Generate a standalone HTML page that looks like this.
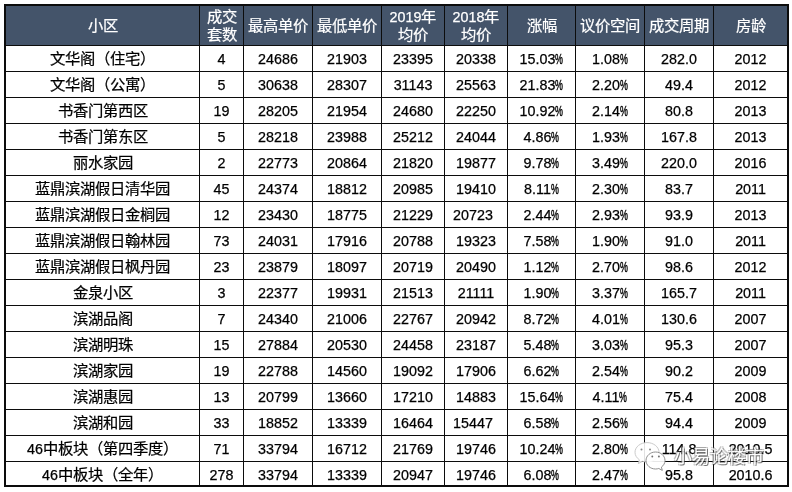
<!DOCTYPE html>
<html lang="zh-CN">
<head>
<meta charset="utf-8">
<title>小区成交数据</title>
<style>
html,body{margin:0;padding:0;background:#fff;}
body{width:792px;height:492px;position:relative;overflow:hidden;font-family:"Liberation Sans",sans-serif;font-size:14.3px;color:#000;}
#sheet{position:absolute;left:0;top:0;width:792px;height:492px;will-change:transform;}
#grid{position:absolute;left:4px;top:4px;width:785px;height:483px;background:#0c0c0c;}
.c{position:absolute;background:#fff;display:flex;align-items:center;justify-content:center;text-align:center;white-space:nowrap;line-height:18px;box-sizing:border-box;padding-top:1px;-webkit-text-stroke:.25px currentColor;}
.h{background:#44546a;color:#fff;padding-top:1px;}
.z{font-size:15.3px;-webkit-text-stroke:.22px currentColor;}
.n{font-size:14.3px;-webkit-text-stroke:.25px currentColor;}
.p{display:inline-block;transform:scaleX(.62);transform-origin:0 50%;width:8px;text-align:left;-webkit-text-stroke:.45px currentColor;}
#wm{position:absolute;left:632px;top:440px;width:142px;height:36px;}
#wm .t{position:absolute;left:42px;top:5px;font-size:18px;line-height:24px;color:#fff;white-space:nowrap;text-shadow:1px 1px 0 rgba(60,60,60,.7),-1px -1px 0 rgba(130,130,130,.5),1px -1px 0 rgba(120,120,120,.45),-1px 1px 0 rgba(120,120,120,.45);opacity:.92;}
#wm svg{position:absolute;left:0;top:0;}
</style>
</head>
<body>
<div id="sheet">
<div id="grid"></div>

<div class="c h z" style="left:6px;top:6px;width:193px;height:39px"><div>小区</div></div>
<div class="c h z" style="left:200px;top:6px;width:43px;height:39px"><div>成交<br>套数</div></div>
<div class="c h z" style="left:244px;top:6px;width:68px;height:39px"><div>最高单价</div></div>
<div class="c h z" style="left:313px;top:6px;width:68px;height:39px"><div>最低单价</div></div>
<div class="c h z" style="left:382px;top:6px;width:62px;height:39px"><div><span class="n">2019</span>年<br>均价</div></div>
<div class="c h z" style="left:445px;top:6px;width:62px;height:39px"><div><span class="n">2018</span>年<br>均价</div></div>
<div class="c h z" style="left:508px;top:6px;width:67px;height:39px"><div>涨幅</div></div>
<div class="c h z" style="left:576px;top:6px;width:68px;height:39px"><div>议价空间</div></div>
<div class="c h z" style="left:645px;top:6px;width:68px;height:39px"><div>成交周期</div></div>
<div class="c h z" style="left:714px;top:6px;width:73px;height:39px"><div>房龄</div></div>
<div class="c z" style="left:6px;top:46px;width:193px;height:25px"><div>文华阁（住宅）</div></div>
<div class="c" style="left:200px;top:46px;width:43px;height:25px"><div>4</div></div>
<div class="c" style="left:244px;top:46px;width:68px;height:25px"><div>24686</div></div>
<div class="c" style="left:313px;top:46px;width:68px;height:25px"><div>21903</div></div>
<div class="c" style="left:382px;top:46px;width:62px;height:25px"><div>23395</div></div>
<div class="c" style="left:445px;top:46px;width:62px;height:25px"><div>20338</div></div>
<div class="c" style="left:508px;top:46px;width:67px;height:25px"><div>15.03<span class="p">%</span></div></div>
<div class="c" style="left:576px;top:46px;width:68px;height:25px"><div>1.08<span class="p">%</span></div></div>
<div class="c" style="left:645px;top:46px;width:68px;height:25px"><div>282.0</div></div>
<div class="c" style="left:714px;top:46px;width:73px;height:25px"><div>2012</div></div>
<div class="c z" style="left:6px;top:72px;width:193px;height:25px"><div>文华阁（公寓）</div></div>
<div class="c" style="left:200px;top:72px;width:43px;height:25px"><div>5</div></div>
<div class="c" style="left:244px;top:72px;width:68px;height:25px"><div>30638</div></div>
<div class="c" style="left:313px;top:72px;width:68px;height:25px"><div>28307</div></div>
<div class="c" style="left:382px;top:72px;width:62px;height:25px"><div>31143</div></div>
<div class="c" style="left:445px;top:72px;width:62px;height:25px"><div>25563</div></div>
<div class="c" style="left:508px;top:72px;width:67px;height:25px"><div>21.83<span class="p">%</span></div></div>
<div class="c" style="left:576px;top:72px;width:68px;height:25px"><div>2.20<span class="p">%</span></div></div>
<div class="c" style="left:645px;top:72px;width:68px;height:25px"><div>49.4</div></div>
<div class="c" style="left:714px;top:72px;width:73px;height:25px"><div>2012</div></div>
<div class="c z" style="left:6px;top:98px;width:193px;height:25px"><div>书香门第西区</div></div>
<div class="c" style="left:200px;top:98px;width:43px;height:25px"><div>19</div></div>
<div class="c" style="left:244px;top:98px;width:68px;height:25px"><div>28205</div></div>
<div class="c" style="left:313px;top:98px;width:68px;height:25px"><div>21954</div></div>
<div class="c" style="left:382px;top:98px;width:62px;height:25px"><div>24680</div></div>
<div class="c" style="left:445px;top:98px;width:62px;height:25px"><div>22250</div></div>
<div class="c" style="left:508px;top:98px;width:67px;height:25px"><div>10.92<span class="p">%</span></div></div>
<div class="c" style="left:576px;top:98px;width:68px;height:25px"><div>2.14<span class="p">%</span></div></div>
<div class="c" style="left:645px;top:98px;width:68px;height:25px"><div>80.8</div></div>
<div class="c" style="left:714px;top:98px;width:73px;height:25px"><div>2013</div></div>
<div class="c z" style="left:6px;top:124px;width:193px;height:25px"><div>书香门第东区</div></div>
<div class="c" style="left:200px;top:124px;width:43px;height:25px"><div>5</div></div>
<div class="c" style="left:244px;top:124px;width:68px;height:25px"><div>28218</div></div>
<div class="c" style="left:313px;top:124px;width:68px;height:25px"><div>23988</div></div>
<div class="c" style="left:382px;top:124px;width:62px;height:25px"><div>25212</div></div>
<div class="c" style="left:445px;top:124px;width:62px;height:25px"><div>24044</div></div>
<div class="c" style="left:508px;top:124px;width:67px;height:25px"><div>4.86<span class="p">%</span></div></div>
<div class="c" style="left:576px;top:124px;width:68px;height:25px"><div>1.93<span class="p">%</span></div></div>
<div class="c" style="left:645px;top:124px;width:68px;height:25px"><div>167.8</div></div>
<div class="c" style="left:714px;top:124px;width:73px;height:25px"><div>2013</div></div>
<div class="c z" style="left:6px;top:150px;width:193px;height:25px"><div>丽水家园</div></div>
<div class="c" style="left:200px;top:150px;width:43px;height:25px"><div>2</div></div>
<div class="c" style="left:244px;top:150px;width:68px;height:25px"><div>22773</div></div>
<div class="c" style="left:313px;top:150px;width:68px;height:25px"><div>20864</div></div>
<div class="c" style="left:382px;top:150px;width:62px;height:25px"><div>21820</div></div>
<div class="c" style="left:445px;top:150px;width:62px;height:25px"><div>19877</div></div>
<div class="c" style="left:508px;top:150px;width:67px;height:25px"><div>9.78<span class="p">%</span></div></div>
<div class="c" style="left:576px;top:150px;width:68px;height:25px"><div>3.49<span class="p">%</span></div></div>
<div class="c" style="left:645px;top:150px;width:68px;height:25px"><div>220.0</div></div>
<div class="c" style="left:714px;top:150px;width:73px;height:25px"><div>2016</div></div>
<div class="c z" style="left:6px;top:176px;width:193px;height:25px"><div>蓝鼎滨湖假日清华园</div></div>
<div class="c" style="left:200px;top:176px;width:43px;height:25px"><div>45</div></div>
<div class="c" style="left:244px;top:176px;width:68px;height:25px"><div>24374</div></div>
<div class="c" style="left:313px;top:176px;width:68px;height:25px"><div>18812</div></div>
<div class="c" style="left:382px;top:176px;width:62px;height:25px"><div>20985</div></div>
<div class="c" style="left:445px;top:176px;width:62px;height:25px"><div>19410</div></div>
<div class="c" style="left:508px;top:176px;width:67px;height:25px"><div>8.11<span class="p">%</span></div></div>
<div class="c" style="left:576px;top:176px;width:68px;height:25px"><div>2.30<span class="p">%</span></div></div>
<div class="c" style="left:645px;top:176px;width:68px;height:25px"><div>83.7</div></div>
<div class="c" style="left:714px;top:176px;width:73px;height:25px"><div>2011</div></div>
<div class="c z" style="left:6px;top:202px;width:193px;height:25px"><div>蓝鼎滨湖假日金榈园</div></div>
<div class="c" style="left:200px;top:202px;width:43px;height:25px"><div>12</div></div>
<div class="c" style="left:244px;top:202px;width:68px;height:25px"><div>23430</div></div>
<div class="c" style="left:313px;top:202px;width:68px;height:25px"><div>18775</div></div>
<div class="c" style="left:382px;top:202px;width:62px;height:25px"><div>21229</div></div>
<div class="c" style="left:445px;top:202px;width:62px;height:25px;padding-right:6px"><div>20723</div></div>
<div class="c" style="left:508px;top:202px;width:67px;height:25px"><div>2.44<span class="p">%</span></div></div>
<div class="c" style="left:576px;top:202px;width:68px;height:25px"><div>2.93<span class="p">%</span></div></div>
<div class="c" style="left:645px;top:202px;width:68px;height:25px"><div>93.9</div></div>
<div class="c" style="left:714px;top:202px;width:73px;height:25px"><div>2013</div></div>
<div class="c z" style="left:6px;top:228px;width:193px;height:25px"><div>蓝鼎滨湖假日翰林园</div></div>
<div class="c" style="left:200px;top:228px;width:43px;height:25px"><div>73</div></div>
<div class="c" style="left:244px;top:228px;width:68px;height:25px"><div>24031</div></div>
<div class="c" style="left:313px;top:228px;width:68px;height:25px"><div>17916</div></div>
<div class="c" style="left:382px;top:228px;width:62px;height:25px"><div>20788</div></div>
<div class="c" style="left:445px;top:228px;width:62px;height:25px"><div>19323</div></div>
<div class="c" style="left:508px;top:228px;width:67px;height:25px"><div>7.58<span class="p">%</span></div></div>
<div class="c" style="left:576px;top:228px;width:68px;height:25px"><div>1.90<span class="p">%</span></div></div>
<div class="c" style="left:645px;top:228px;width:68px;height:25px"><div>91.0</div></div>
<div class="c" style="left:714px;top:228px;width:73px;height:25px"><div>2011</div></div>
<div class="c z" style="left:6px;top:254px;width:193px;height:25px"><div>蓝鼎滨湖假日枫丹园</div></div>
<div class="c" style="left:200px;top:254px;width:43px;height:25px"><div>23</div></div>
<div class="c" style="left:244px;top:254px;width:68px;height:25px"><div>23879</div></div>
<div class="c" style="left:313px;top:254px;width:68px;height:25px"><div>18097</div></div>
<div class="c" style="left:382px;top:254px;width:62px;height:25px"><div>20719</div></div>
<div class="c" style="left:445px;top:254px;width:62px;height:25px"><div>20490</div></div>
<div class="c" style="left:508px;top:254px;width:67px;height:25px"><div>1.12<span class="p">%</span></div></div>
<div class="c" style="left:576px;top:254px;width:68px;height:25px"><div>2.70<span class="p">%</span></div></div>
<div class="c" style="left:645px;top:254px;width:68px;height:25px"><div>98.6</div></div>
<div class="c" style="left:714px;top:254px;width:73px;height:25px"><div>2012</div></div>
<div class="c z" style="left:6px;top:280px;width:193px;height:25px"><div>金泉小区</div></div>
<div class="c" style="left:200px;top:280px;width:43px;height:25px"><div>3</div></div>
<div class="c" style="left:244px;top:280px;width:68px;height:25px"><div>22377</div></div>
<div class="c" style="left:313px;top:280px;width:68px;height:25px"><div>19931</div></div>
<div class="c" style="left:382px;top:280px;width:62px;height:25px"><div>21513</div></div>
<div class="c" style="left:445px;top:280px;width:62px;height:25px"><div>21111</div></div>
<div class="c" style="left:508px;top:280px;width:67px;height:25px"><div>1.90<span class="p">%</span></div></div>
<div class="c" style="left:576px;top:280px;width:68px;height:25px"><div>3.37<span class="p">%</span></div></div>
<div class="c" style="left:645px;top:280px;width:68px;height:25px"><div>165.7</div></div>
<div class="c" style="left:714px;top:280px;width:73px;height:25px"><div>2011</div></div>
<div class="c z" style="left:6px;top:306px;width:193px;height:25px"><div>滨湖品阁</div></div>
<div class="c" style="left:200px;top:306px;width:43px;height:25px"><div>7</div></div>
<div class="c" style="left:244px;top:306px;width:68px;height:25px"><div>24340</div></div>
<div class="c" style="left:313px;top:306px;width:68px;height:25px"><div>21006</div></div>
<div class="c" style="left:382px;top:306px;width:62px;height:25px"><div>22767</div></div>
<div class="c" style="left:445px;top:306px;width:62px;height:25px"><div>20942</div></div>
<div class="c" style="left:508px;top:306px;width:67px;height:25px"><div>8.72<span class="p">%</span></div></div>
<div class="c" style="left:576px;top:306px;width:68px;height:25px"><div>4.01<span class="p">%</span></div></div>
<div class="c" style="left:645px;top:306px;width:68px;height:25px"><div>130.6</div></div>
<div class="c" style="left:714px;top:306px;width:73px;height:25px"><div>2007</div></div>
<div class="c z" style="left:6px;top:332px;width:193px;height:25px"><div>滨湖明珠</div></div>
<div class="c" style="left:200px;top:332px;width:43px;height:25px"><div>15</div></div>
<div class="c" style="left:244px;top:332px;width:68px;height:25px"><div>27884</div></div>
<div class="c" style="left:313px;top:332px;width:68px;height:25px"><div>20530</div></div>
<div class="c" style="left:382px;top:332px;width:62px;height:25px"><div>24458</div></div>
<div class="c" style="left:445px;top:332px;width:62px;height:25px"><div>23187</div></div>
<div class="c" style="left:508px;top:332px;width:67px;height:25px"><div>5.48<span class="p">%</span></div></div>
<div class="c" style="left:576px;top:332px;width:68px;height:25px"><div>3.03<span class="p">%</span></div></div>
<div class="c" style="left:645px;top:332px;width:68px;height:25px"><div>95.3</div></div>
<div class="c" style="left:714px;top:332px;width:73px;height:25px"><div>2007</div></div>
<div class="c z" style="left:6px;top:358px;width:193px;height:25px"><div>滨湖家园</div></div>
<div class="c" style="left:200px;top:358px;width:43px;height:25px"><div>19</div></div>
<div class="c" style="left:244px;top:358px;width:68px;height:25px"><div>22788</div></div>
<div class="c" style="left:313px;top:358px;width:68px;height:25px"><div>14560</div></div>
<div class="c" style="left:382px;top:358px;width:62px;height:25px"><div>19092</div></div>
<div class="c" style="left:445px;top:358px;width:62px;height:25px"><div>17906</div></div>
<div class="c" style="left:508px;top:358px;width:67px;height:25px"><div>6.62<span class="p">%</span></div></div>
<div class="c" style="left:576px;top:358px;width:68px;height:25px"><div>2.54<span class="p">%</span></div></div>
<div class="c" style="left:645px;top:358px;width:68px;height:25px"><div>90.2</div></div>
<div class="c" style="left:714px;top:358px;width:73px;height:25px"><div>2009</div></div>
<div class="c z" style="left:6px;top:384px;width:193px;height:25px"><div>滨湖惠园</div></div>
<div class="c" style="left:200px;top:384px;width:43px;height:25px"><div>13</div></div>
<div class="c" style="left:244px;top:384px;width:68px;height:25px"><div>20799</div></div>
<div class="c" style="left:313px;top:384px;width:68px;height:25px"><div>13660</div></div>
<div class="c" style="left:382px;top:384px;width:62px;height:25px"><div>17210</div></div>
<div class="c" style="left:445px;top:384px;width:62px;height:25px"><div>14883</div></div>
<div class="c" style="left:508px;top:384px;width:67px;height:25px"><div>15.64<span class="p">%</span></div></div>
<div class="c" style="left:576px;top:384px;width:68px;height:25px"><div>4.11<span class="p">%</span></div></div>
<div class="c" style="left:645px;top:384px;width:68px;height:25px"><div>75.4</div></div>
<div class="c" style="left:714px;top:384px;width:73px;height:25px"><div>2008</div></div>
<div class="c z" style="left:6px;top:410px;width:193px;height:25px"><div>滨湖和园</div></div>
<div class="c" style="left:200px;top:410px;width:43px;height:25px"><div>33</div></div>
<div class="c" style="left:244px;top:410px;width:68px;height:25px"><div>18852</div></div>
<div class="c" style="left:313px;top:410px;width:68px;height:25px"><div>13339</div></div>
<div class="c" style="left:382px;top:410px;width:62px;height:25px"><div>16464</div></div>
<div class="c" style="left:445px;top:410px;width:62px;height:25px;padding-right:6px"><div>15447</div></div>
<div class="c" style="left:508px;top:410px;width:67px;height:25px"><div>6.58<span class="p">%</span></div></div>
<div class="c" style="left:576px;top:410px;width:68px;height:25px"><div>2.56<span class="p">%</span></div></div>
<div class="c" style="left:645px;top:410px;width:68px;height:25px"><div>94.4</div></div>
<div class="c" style="left:714px;top:410px;width:73px;height:25px"><div>2009</div></div>
<div class="c z" style="left:6px;top:436px;width:193px;height:25px"><div><span class="n">46</span>中板块（第四季度）</div></div>
<div class="c" style="left:200px;top:436px;width:43px;height:25px"><div>71</div></div>
<div class="c" style="left:244px;top:436px;width:68px;height:25px"><div>33794</div></div>
<div class="c" style="left:313px;top:436px;width:68px;height:25px"><div>16712</div></div>
<div class="c" style="left:382px;top:436px;width:62px;height:25px"><div>21769</div></div>
<div class="c" style="left:445px;top:436px;width:62px;height:25px"><div>19746</div></div>
<div class="c" style="left:508px;top:436px;width:67px;height:25px"><div>10.24<span class="p">%</span></div></div>
<div class="c" style="left:576px;top:436px;width:68px;height:25px"><div>2.80<span class="p">%</span></div></div>
<div class="c" style="left:645px;top:436px;width:68px;height:25px"><div>114.8</div></div>
<div class="c" style="left:714px;top:436px;width:73px;height:25px"><div>2010.5</div></div>
<div class="c z" style="left:6px;top:462px;width:193px;height:23px;padding-top:3px"><div><span class="n">46</span>中板块（全年）</div></div>
<div class="c" style="left:200px;top:462px;width:43px;height:23px;padding-top:3px"><div>278</div></div>
<div class="c" style="left:244px;top:462px;width:68px;height:23px;padding-top:3px"><div>33794</div></div>
<div class="c" style="left:313px;top:462px;width:68px;height:23px;padding-top:3px"><div>13339</div></div>
<div class="c" style="left:382px;top:462px;width:62px;height:23px;padding-top:3px"><div>20947</div></div>
<div class="c" style="left:445px;top:462px;width:62px;height:23px;padding-top:3px"><div>19746</div></div>
<div class="c" style="left:508px;top:462px;width:67px;height:23px;padding-top:3px"><div>6.08<span class="p">%</span></div></div>
<div class="c" style="left:576px;top:462px;width:68px;height:23px;padding-top:3px"><div>2.47<span class="p">%</span></div></div>
<div class="c" style="left:645px;top:462px;width:68px;height:23px;padding-top:3px"><div>95.8</div></div>
<div class="c" style="left:714px;top:462px;width:73px;height:23px;padding-top:3px"><div>2010.6</div></div>
<div id="wm">
<svg width="38" height="34" viewBox="0 0 38 34">
<path d="M15 2.600C8.400 2.600 3 6.900 3 12.300c0 3 1.700 5.700 4.400 7.500L6.300 23.600l4.200-2.300c1.400.4 2.900.7 4.500.7 6.600 0 12-4.300 12-9.700S21.600 2.600 15 2.600z" fill="#fff" fill-opacity=".88" stroke="#c4c4c4" stroke-width=".9"/>
<path d="M23.500 12c-5.200 0-9.500 3.800-9.500 8.500s4.300 8.500 9.500 8.500c1.200 0 2.300-.2 3.300-.5l3.500 1.900-.9-3.300c2.200-1.600 3.600-3.900 3.600-6.600 0-4.700-4.300-8.500-9.500-8.500z" fill="#fff" fill-opacity=".9" stroke="#909090" stroke-width="1"/>
<g fill="#8a8a8a"><circle cx="9.500" cy="9.600" r="1"/><circle cx="18" cy="9.600" r="1"/></g>
<g fill="#6e6e6e"><circle cx="20.300" cy="16.500" r=".95"/><circle cx="26.900" cy="16.500" r=".95"/></g>
</svg>
<div class="t">小易论楼市</div>
</div>
</div>
</body>
</html>
